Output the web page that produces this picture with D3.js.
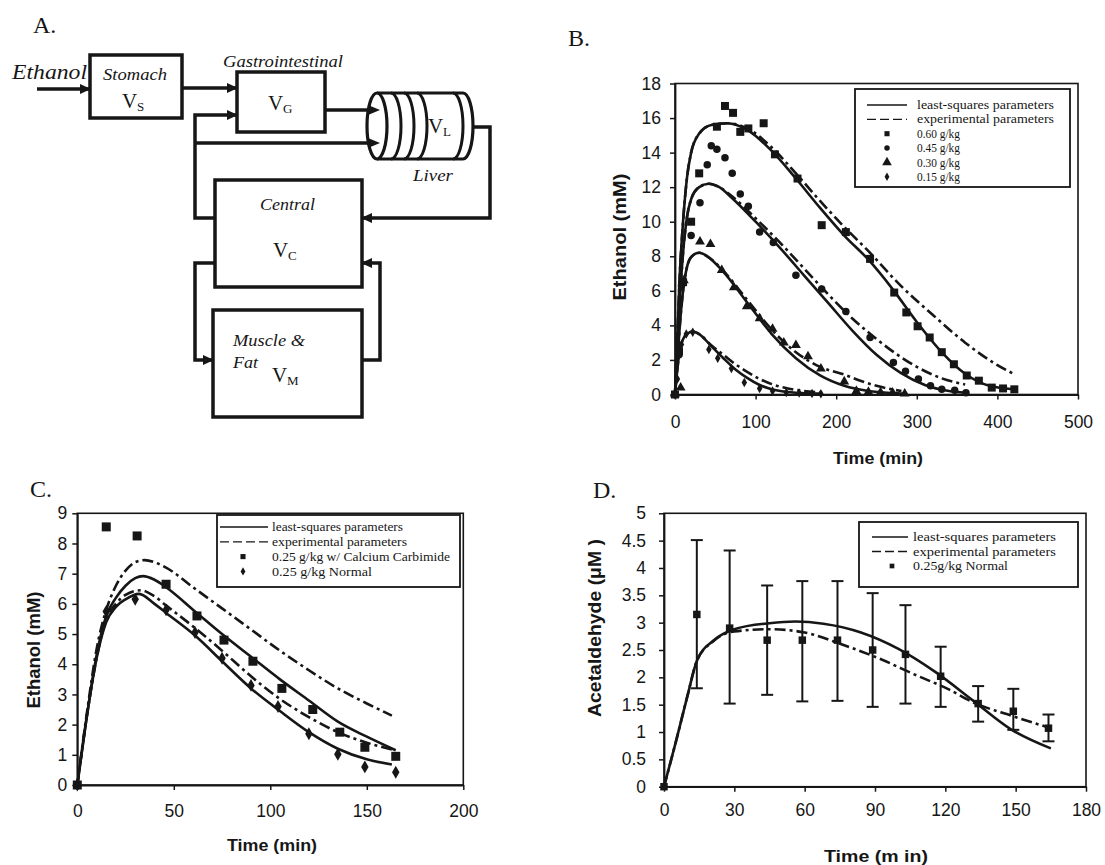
<!DOCTYPE html>
<html lang="en">
<head>
  <meta charset="UTF-8">
  <title>Ethanol model figure</title>
  <script src="https://cdnjs.cloudflare.com/ajax/libs/d3/7.8.5/d3.min.js"></script>
  <style>
    body { margin: 0; background: #fff; }
    svg { display: block; }
  </style>
</head>
<body>
<svg id="fig" width="1105" height="865"></svg>
<script>
// ---------- data ----------
// Panel B: ethanol, four doses
const bTicksX = [0, 100, 200, 300, 400, 500];
const bTicksY = [0, 2, 4, 6, 8, 10, 12, 14, 16, 18];
const bPts060 = [[0,0],[5,2.5],[10,6.5],[20,10.0],[30,12.8],[52,15.5],[62,16.7],[72,16.3],[81,15.2],[91,15.4],[110,15.7],[124,13.9],[152,12.5],[182,9.8],[212,9.4],[242,7.85],[272,5.9],[287,4.75],[301,3.95],[316,3.3],[331,2.45],[346,1.75],[362,1.1],[377,0.8],[393,0.4],[407,0.35],[421,0.3]];
const bPts045 = [[0,0],[5,2.3],[8,6.3],[20,9.2],[31,11.1],[40,13.3],[45,14.4],[52,14.2],[62,13.7],[71,12.8],[81,11.6],[91,10.9],[105,9.4],[122,8.8],[150,6.9],[182,6.1],[212,4.8],[242,3.3],[271,1.85],[286,1.35],[302,0.9],[317,0.5],[331,0.3],[347,0.25],[361,0.1]];
const bPts030 = [[0,0],[7,0.4],[11,6.6],[31,8.85],[44,8.7],[58,7.2],[73,6.2],[89,5.1],[105,4.4],[121,3.8],[135,3.0],[150,2.85],[165,2.2],[181,1.5],[210,0.75],[225,0.2],[240,0.15],[255,0.12],[270,0.1],[285,0.05]];
const bPts015 = [[0,0],[3,0.9],[5,2.3],[8,2.9],[14,3.5],[22,3.6],[42,2.6],[53,2.1],[70,1.5],[86,0.7],[105,0.35],[121,0.2],[138,0.12],[154,0.08],[170,0.06],[181,0.05]];
const bLs060 = [[0,0],[3,3.5],[6,7.0],[10,10.0],[15,12.6],[20,14.0],[30,15.1],[45,15.6],[65,15.7],[90,15.3],[120,14.1],[150,12.5],[180,10.8],[210,9.2],[240,7.8],[270,6.1],[300,4.2],[330,2.5],[360,1.2],[390,0.5],[420,0.3]];
const bEx060 = [[0,0],[3,3.5],[6,7.0],[10,10.0],[15,12.6],[20,14.0],[30,15.1],[45,15.6],[65,15.7],[90,15.4],[120,14.3],[150,12.8],[180,11.2],[210,9.7],[240,8.3],[280,6.3],[320,4.6],[360,3.0],[400,1.7],[422,1.15]];
const bLs045 = [[0,0],[3,2.8],[6,5.5],[10,8.2],[15,10.3],[20,11.3],[30,12.0],[42,12.2],[55,12.0],[70,11.4],[100,10.0],[130,8.5],[160,6.9],[190,5.3],[220,3.7],[250,2.3],[280,1.25],[310,0.55],[340,0.2],[360,0.1]];
const bEx045 = [[0,0],[3,2.8],[6,5.5],[10,8.2],[15,10.3],[20,11.3],[30,12.0],[42,12.2],[55,12.0],[70,11.5],[100,10.2],[130,8.8],[160,7.3],[190,5.8],[220,4.4],[245,3.4],[267,2.6],[300,1.6],[330,0.95],[360,0.58]];
const bLs030 = [[0,0],[3,2.0],[6,4.0],[10,6.0],[15,7.4],[20,7.95],[30,8.2],[40,8.0],[60,7.1],[90,5.3],[120,3.5],[150,2.1],[180,1.1],[210,0.5],[240,0.2],[270,0.08],[285,0.05]];
const bEx030 = [[0,0],[3,2.0],[6,4.0],[10,6.0],[15,7.4],[20,7.95],[30,8.2],[40,8.0],[60,7.15],[90,5.45],[120,3.75],[150,2.45],[180,1.6],[210,1.15],[230,0.8],[250,0.5],[281,0.2]];
const bLs015 = [[0,0],[3,1.5],[6,2.6],[10,3.2],[15,3.5],[22,3.65],[30,3.5],[45,2.8],[60,2.1],[75,1.45],[90,0.95],[105,0.55],[120,0.3],[150,0.1],[180,0.05]];
const bEx015 = [[0,0],[3,1.5],[6,2.6],[10,3.2],[15,3.5],[22,3.65],[30,3.5],[45,2.85],[60,2.3],[75,1.75],[90,1.3],[105,0.9],[120,0.6],[140,0.35],[160,0.2],[180,0.12]];

// Panel C: ethanol with / without calcium carbimide
const cTicksX = [0, 50, 100, 150, 200];
const cTicksY = [0, 1, 2, 3, 4, 5, 6, 7, 8, 9];
const cPtsCarb = [[0,0],[15,8.55],[31,8.25],[46,6.65],[62,5.6],[76,4.8],[91,4.1],[106,3.2],[122,2.5],[136,1.75],[149,1.25],[165,0.95]];
const cPtsNorm = [[0,0],[15,5.75],[30,6.15],[46,5.8],[61,5.05],[75,4.2],[90,3.3],[104,2.6],[120,1.7],[135,1.02],[149,0.6],[165,0.42]];
const cExCarb = [[0,0],[5,2.4],[10,4.5],[15,5.8],[20,6.6],[25,7.1],[30,7.38],[35,7.45],[40,7.38],[46,7.2],[61,6.5],[75,5.85],[90,5.15],[105,4.45],[120,3.8],[135,3.2],[150,2.7],[163,2.3]];
const cLsCarb = [[0,0],[5,2.3],[10,4.3],[15,5.6],[20,6.2],[25,6.6],[30,6.85],[34,6.92],[40,6.8],[46,6.55],[61,5.75],[75,5.0],[90,4.25],[105,3.5],[120,2.8],[135,2.1],[150,1.6],[165,1.15]];
const cExNorm = [[0,0],[5,2.3],[10,4.2],[15,5.5],[20,6.0],[25,6.3],[33,6.45],[40,6.25],[46,5.95],[61,5.2],[75,4.45],[90,3.6],[105,2.85],[120,2.25],[135,1.75],[150,1.4],[165,1.15]];
const cLsNorm = [[0,0],[5,2.3],[10,4.2],[15,5.4],[20,5.9],[25,6.15],[32,6.33],[40,6.0],[46,5.7],[61,4.95],[75,4.1],[90,3.2],[105,2.45],[120,1.75],[135,1.2],[150,0.85],[163,0.68]];

// Panel D: acetaldehyde
const dTicksX = [0, 30, 60, 90, 120, 150, 180];
const dTicksY = [0, 0.5, 1, 1.5, 2, 2.5, 3, 3.5, 4, 4.5, 5];
const dTime = [0, 14, 28, 44, 59, 74, 89, 103, 118, 134, 149, 164];
const dMean = [0, 3.15, 2.9, 2.68, 2.68, 2.68, 2.5, 2.42, 2.02, 1.52, 1.38, 1.07];
const dHigh = [0, 4.51, 4.32, 3.68, 3.76, 3.76, 3.54, 3.32, 2.56, 1.84, 1.79, 1.32];
const dLow  = [0, 1.8, 1.52, 1.68, 1.56, 1.57, 1.46, 1.52, 1.46, 1.19, 1.04, 0.83];
const dLs  = [[0,0],[5,0.81],[10,1.66],[14,2.3],[21,2.67],[30,2.88],[45,2.99],[56,3.02],[68,2.98],[84,2.82],[100,2.52],[116,2.09],[132,1.57],[148,1.05],[165,0.7]];
const dEx  = [[0,0],[5,0.81],[10,1.66],[14,2.3],[21,2.66],[30,2.84],[45,2.88],[60,2.82],[76,2.6],[92,2.34],[108,2.03],[121,1.79],[132,1.54],[148,1.3],[165,1.07]];

// ---------- drawing ----------
const ink = "#161616";
const sans = "'Liberation Sans', Arial, sans-serif";
const serif = "'Liberation Serif', 'Times New Roman', serif";
const svg = d3.select("#fig");
svg.append("rect").attr("width", 1105).attr("height", 865).attr("fill", "#fff");

const dashCurve = "11,4,3,4";

function panel(o) {
  const g = svg.append("g");
  const x = d3.scaleLinear().domain(o.xDomain).range(o.xRange);
  const y = d3.scaleLinear().domain(o.yDomain).range(o.yRange);

  // plot frame
  g.append("rect")
    .attr("x", o.xRange[0]).attr("y", o.yRange[1])
    .attr("width", o.xRange[1] - o.xRange[0])
    .attr("height", o.yRange[0] - o.yRange[1])
    .attr("fill", "none").attr("stroke", ink).attr("stroke-width", 1.6);

  const fmt = d => String(d);
  const xa = g.append("g")
    .attr("transform", `translate(0,${o.yRange[0]})`)
    .call(d3.axisBottom(x).tickValues(o.xTicks).tickFormat(fmt)
      .tickSize(5).tickSizeOuter(0).tickPadding(o.xPad));
  const ya = g.append("g")
    .attr("transform", `translate(${o.xRange[0]},0)`)
    .call(d3.axisLeft(y).tickValues(o.yTicks).tickFormat(fmt)
      .tickSize(5).tickSizeOuter(0).tickPadding(o.yPad));
  [xa, ya].forEach(a => {
    a.select(".domain").attr("stroke", ink).attr("stroke-width", 1.8);
    a.selectAll(".tick line").attr("stroke", ink).attr("stroke-width", 1.5);
    a.selectAll(".tick text").attr("fill", ink)
      .style("font-family", sans).style("font-size", "17.5px");
  });

  // axis titles
  g.append("text")
    .attr("x", o.xTitle.x).attr("y", o.xTitle.y)
    .attr("text-anchor", "middle")
    .attr("textLength", o.xTitle.len).attr("lengthAdjust", "spacingAndGlyphs")
    .style("font-family", sans).style("font-weight", "bold").style("font-size", "17px")
    .attr("fill", ink).text(o.xTitle.text);
  g.append("text")
    .attr("transform", `translate(${o.yTitle.x},${o.yTitle.y}) rotate(-90)`)
    .attr("text-anchor", "middle")
    .attr("textLength", o.yTitle.len).attr("lengthAdjust", "spacingAndGlyphs")
    .style("font-family", sans).style("font-weight", "bold").style("font-size", "18px")
    .attr("fill", ink).text(o.yTitle.text);

  return { g, x, y };
}

function curve(p, pts, dash) {
  p.g.append("path").datum(pts)
    .attr("fill", "none").attr("stroke", ink).attr("stroke-width", 2.6)
    .attr("stroke-linejoin", "round")
    .attr("stroke-dasharray", dash || null)
    .attr("d", d3.line().x(d => p.x(d[0])).y(d => p.y(d[1])).curve(d3.curveMonotoneX));
}

function points(p, pts, type, size) {
  p.g.selectAll(null).data(pts).join("path")
    .attr("transform", d => `translate(${p.x(d[0])},${p.y(d[1])})`)
    .attr("d", d3.symbol().type(type).size(size))
    .attr("fill", ink);
}

function legend(box, rows) {
  const g = svg.append("g");
  g.append("rect").attr("x", box.x0).attr("y", box.y0)
    .attr("width", box.x1 - box.x0).attr("height", box.y1 - box.y0)
    .attr("fill", "#fff").attr("stroke", ink).attr("stroke-width", 1.8);
  rows.forEach((r, i) => {
    const cy = box.row0 + i * box.step;
    if (r.kind === "line" || r.kind === "dash") {
      g.append("line").attr("x1", box.l0).attr("x2", box.l1).attr("y1", cy).attr("y2", cy)
        .attr("stroke", ink).attr("stroke-width", 1.3)
        .attr("stroke-dasharray", r.kind === "dash" ? "9,4" : null);
    } else {
      g.append("path").attr("transform", `translate(${box.m},${cy})`)
        .attr("d", d3.symbol().type(r.kind).size(r.size)).attr("fill", ink);
    }
    g.append("text").attr("x", box.tx).attr("y", cy).attr("dy", "0.33em")
      .attr("textLength", r.len).attr("lengthAdjust", "spacingAndGlyphs")
      .style("font-family", serif).style("font-size", "12.5px")
      .attr("fill", ink).text(r.text);
  });
}

function panelLetter(t, x, y) {
  svg.append("text").attr("x", x).attr("y", y)
    .style("font-family", serif).style("font-size", "24px")
    .attr("fill", ink).text(t);
}

// ---- Panel B ----
const pB = panel({
  xDomain: [0, 500], xRange: [675, 1078],
  yDomain: [0, 18], yRange: [394.5, 83.5],
  xTicks: bTicksX, yTicks: bTicksY, xPad: 16, yPad: 9,
  xTitle: { text: "Time (min)", x: 878, y: 464, len: 90 },
  yTitle: { text: "Ethanol (mM)", x: 626, y: 237, len: 127 }
});
[bLs060, bLs045, bLs030, bLs015].forEach(c => curve(pB, c));
[bEx060, bEx045, bEx030, bEx015].forEach(c => curve(pB, c, dashCurve));
points(pB, bPts060, d3.symbolSquare, 64);
points(pB, bPts045, d3.symbolCircle, 44);
points(pB, bPts030, d3.symbolTriangle, 42);
points(pB, bPts015, d3.symbolDiamond, 26);
legend({ x0: 855, y0: 89, x1: 1070, y1: 187, row0: 105, step: 14.35, l0: 867, l1: 907, m: 887, tx: 917 }, [
  { kind: "line", text: "least-squares parameters", len: 137 },
  { kind: "dash", text: "experimental parameters", len: 137 },
  { kind: d3.symbolSquare, size: 26, text: "0.60 g/kg", len: 43 },
  { kind: d3.symbolCircle, size: 24, text: "0.45 g/kg", len: 43 },
  { kind: d3.symbolTriangle, size: 40, text: "0.30 g/kg", len: 43 },
  { kind: d3.symbolDiamond, size: 20, text: "0.15 g/kg", len: 43 }
]);

// ---- Panel C ----
const pC = panel({
  xDomain: [0, 200], xRange: [77.3, 463.3],
  yDomain: [0, 9], yRange: [785, 513.3],
  xTicks: cTicksX, yTicks: cTicksY, xPad: 15, yPad: 5,
  xTitle: { text: "Time (min)", x: 272, y: 851, len: 90 },
  yTitle: { text: "Ethanol (mM)", x: 40, y: 650, len: 117 }
});
curve(pC, cLsCarb); curve(pC, cLsNorm);
curve(pC, cExCarb, dashCurve); curve(pC, cExNorm, dashCurve);
points(pC, cPtsCarb, d3.symbolSquare, 81);
points(pC, cPtsNorm, d3.symbolDiamond, 48);
legend({ x0: 217, y0: 515, x1: 460, y1: 587, row0: 527, step: 14.8, l0: 220, l1: 268, m: 243, tx: 272 }, [
  { kind: "line", text: "least-squares parameters", len: 131 },
  { kind: "dash", text: "experimental parameters", len: 135 },
  { kind: d3.symbolSquare, size: 26, text: "0.25 g/kg w/ Calcium Carbimide", len: 178 },
  { kind: d3.symbolDiamond, size: 20, text: "0.25 g/kg Normal", len: 100 }
]);

// ---- Panel D ----
const pD = panel({
  xDomain: [0, 180], xRange: [664, 1086],
  yDomain: [0, 5], yRange: [786.7, 513.3],
  xTicks: dTicksX, yTicks: dTicksY, xPad: 12, yPad: 13,
  xTitle: { text: "Time (m in)", x: 876, y: 862, len: 104 },
  yTitle: { text: "Acetaldehyde (\u03bcM )", x: 601, y: 628, len: 178 }
});
// error bars
const dRows = dTime.map((t, i) => ({ t, m: dMean[i], hi: dHigh[i], lo: dLow[i] }));
const bars = pD.g.selectAll(null).data(dRows.filter(d => d.hi > d.lo)).join("g")
  .attr("stroke", ink).attr("stroke-width", 2);
bars.append("line").attr("x1", d => pD.x(d.t)).attr("x2", d => pD.x(d.t))
  .attr("y1", d => pD.y(d.hi)).attr("y2", d => pD.y(d.lo));
bars.append("line").attr("x1", d => pD.x(d.t) - 6).attr("x2", d => pD.x(d.t) + 6)
  .attr("y1", d => pD.y(d.hi)).attr("y2", d => pD.y(d.hi));
bars.append("line").attr("x1", d => pD.x(d.t) - 6).attr("x2", d => pD.x(d.t) + 6)
  .attr("y1", d => pD.y(d.lo)).attr("y2", d => pD.y(d.lo));
curve(pD, dLs);
curve(pD, dEx, dashCurve);
points(pD, dRows.map(d => [d.t, d.m]), d3.symbolSquare, 56);
legend({ x0: 859, y0: 522, x1: 1078, y1: 587, row0: 537, step: 14.5, l0: 872, l1: 908, m: 892, tx: 913 }, [
  { kind: "line", text: "least-squares parameters", len: 143 },
  { kind: "dash", text: "experimental parameters", len: 143 },
  { kind: d3.symbolSquare, size: 22, text: "0.25g/kg Normal", len: 95 }
]);

panelLetter("A.", 33, 33);
panelLetter("B.", 568, 46);
panelLetter("C.", 30, 497);
panelLetter("D.", 593, 498);

// ---- Panel A: compartment diagram ----
const gA = svg.append("g");
svg.append("defs").append("marker")
  .attr("id", "arr").attr("markerUnits", "userSpaceOnUse")
  .attr("markerWidth", 11).attr("markerHeight", 10)
  .attr("refX", 10).attr("refY", 5).attr("orient", "auto")
  .append("path").attr("d", "M0,0 L11,5 L0,10 Z").attr("fill", ink);

const boxes = [[90, 55, 92, 63], [237, 72, 88, 60], [215, 180, 147, 107], [213, 310, 149, 107]];
boxes.forEach(b => gA.append("rect").attr("x", b[0]).attr("y", b[1]).attr("width", b[2]).attr("height", b[3])
  .attr("fill", "none").attr("stroke", ink).attr("stroke-width", 3.5));

const flows = [
  "M37,89 H90",
  "M182,88 H237",
  "M215,218 H195 V115 H237",
  "M195,143 H380",
  "M325,110 H380",
  "M468,127 H490 V218 H362",
  "M215,263 H195 V360 H213",
  "M362,360 H380 V263 H362"
];
flows.forEach(d => gA.append("path").attr("d", d).attr("fill", "none")
  .attr("stroke", ink).attr("stroke-width", 3.5).attr("stroke-linejoin", "miter")
  .attr("marker-end", "url(#arr)"));

// liver cylinder
const lv = { top: 93, bot: 159, l: 377, r: 463, rx: 10 };
const ry = (lv.bot - lv.top) / 2;
gA.append("path").attr("fill", "#fff").attr("stroke", ink).attr("stroke-width", 3.2)
  .attr("d", `M${lv.l},${lv.top} H${lv.r} A${lv.rx},${ry} 0 0 1 ${lv.r},${lv.bot} H${lv.l}`);
gA.append("ellipse").attr("cx", lv.l).attr("cy", lv.top + ry).attr("rx", lv.rx).attr("ry", ry)
  .attr("fill", "#fff").attr("stroke", ink).attr("stroke-width", 3.2);
[391, 404, 417, 453].forEach(cx => gA.append("path").attr("fill", "none")
  .attr("stroke", ink).attr("stroke-width", 3)
  .attr("d", `M${cx},${lv.top} A${lv.rx},${ry} 0 0 1 ${cx},${lv.bot}`));
// arrow heads entering the liver sit over the disc
[110, 143].forEach(yy => gA.append("path").attr("d", `M368,${yy - 5} L380,${yy} L368,${yy + 5} Z`).attr("fill", ink));

function label(t, x, y, size, len, italic) {
  gA.append("text").attr("x", x).attr("y", y)
    .attr("textLength", len).attr("lengthAdjust", "spacingAndGlyphs")
    .style("font-family", serif).style("font-size", size + "px")
    .style("font-style", italic ? "italic" : "normal")
    .attr("fill", ink).text(t);
}
function vol(sub, x, y) {
  gA.append("text").attr("x", x).attr("y", y)
    .style("font-family", serif).style("font-size", "21px").attr("fill", ink).text("V");
  gA.append("text").attr("x", x + 15).attr("y", y + 3)
    .style("font-family", serif).style("font-size", "13px").attr("fill", ink).text(sub);
}
label("Ethanol", 12, 79, 22, 75, true);
label("Stomach", 103, 80, 17, 64, true);
label("Gastrointestinal", 223, 67, 16, 120, true);
label("Liver", 413, 181, 16, 40, true);
label("Central", 260, 210, 17, 55, true);
label("Muscle &", 233, 346, 16, 72, true);
label("Fat", 233, 368, 16, 25, true);
vol("S", 122, 108);
vol("G", 268, 110);
vol("L", 428, 133);
vol("C", 273, 257);
vol("M", 272, 382);
</script>
</body>
</html>
